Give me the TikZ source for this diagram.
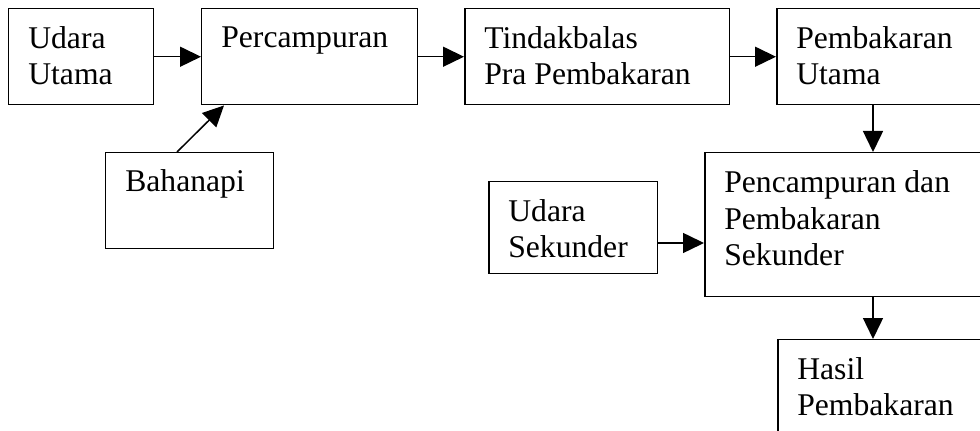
\documentclass[tikz,border=0pt]{standalone}
\usepackage{fontspec}
\setmainfont{Liberation Serif}
\usetikzlibrary{calc, arrows.meta}

\tikzset{
	blok/.style = {draw, rectangle, anchor = north west, inner sep = 0pt, line width = 0.85pt},
	tulis/.style = {anchor = base west, align = left, inner sep = 0pt, font = \fontsize{18}{21}\selectfont},
	panah/.style = {-{Triangle[length = 0.42cm, width = 0.4cm]}, line width = 0.85pt}
}

\begin{document}
\begin{tikzpicture}[x = 0.02cm, y = -0.02cm]
					\def\tinggi{1.92cm};
					
					\useasboundingbox (0,0) rectangle (980,431);
					\clip (0,0) rectangle (980,431);
					
					\begin{scope}
						\node [blok, minimum width = 2.9cm, minimum height = \tinggi] (udaraU) at (8,8) {};
						\node [blok, minimum width = 4.32cm, minimum height = \tinggi] (campur) at (201,8) {};
						\node [blok, minimum width = 3.36cm, minimum height = \tinggi] (bahan) at (105,152) {};
						\node [blok, minimum width = 5.3cm, minimum height = \tinggi] (praBakar) at (464,8) {};
						\node [blok, minimum width = 5.2cm, minimum height = \tinggi] (bakarU) at (776,8) {};
						\node [blok, minimum width = 6cm, minimum height = 2.88cm] (campurS) at (704,152) {};
						\node [blok, minimum width = 3.38cm, minimum height = 1.84cm] (udaraS) at (488,181) {};
						\node [blok, minimum width = 5.2cm, minimum height = 3cm] (hasil) at (777,339) {};
					\end{scope}
					
					% base = last line, 37 per line
					\begin{scope}
						\node [tulis] (udaraU-t) at ($ (udaraU.north west) + (20,77) $) {Udara\\Utama};
						\node [tulis] (campur-t) at ($ (campur.north west) + (20,40) $) {Percampuran};
						\node [tulis] (bahan-t) at ($ (bahan.north west) + (20,40) $) {Bahanapi};
						\node [tulis] (praBakar-t) at ($ (praBakar.north west) + (20,77) $) {Tindakbalas\\Pra Pembakaran};
						\node [tulis] (bakarU-t) at ($ (bakarU.north west) + (20,77) $) {Pembakaran\\Utama};
						\node [tulis] (campurS-t) at ($ (campurS.north west) + (20,114) $) {Pencampuran dan\\Pembakaran\\Sekunder};
						\node [tulis] (udaraS-t) at ($ (udaraS.north west) + (20,77) $) {Udara\\Sekunder};
						\node [tulis] (hasil-t) at ($ (hasil.north west) + (20,77) $) {Hasil\\Pembakaran};
					\end{scope}
					
					\coordinate (c1) at ($ (bahan.north west) + (72,0) $);
					\coordinate (c2) at ($ (campur.south west) + (23,0) $);
					\coordinate (c3) at ($ (bakarU.south west) + (97,0) $);
					\coordinate (c4) at ($ (udaraS.north east) + (0,62) $);
					\coordinate (c5) at ($ (campurS.south west) + (169,0) $);
					
					\begin{scope}
						\draw [panah] (udaraU.east) -- (campur.west);
						\draw [panah] (campur.east) -- (praBakar.west);
						\draw [panah] (praBakar.east) -- (bakarU.west);
						\draw [panah] (c1) -- (c2);
						\draw [panah] (c3) -- (c3 |- campurS.north);
						\draw [panah] (c4) -- (c4 -| campurS.west);
						\draw [panah] (c5) -- (c5 |- hasil.north);
					\end{scope}
				\end{tikzpicture}
\end{document}
